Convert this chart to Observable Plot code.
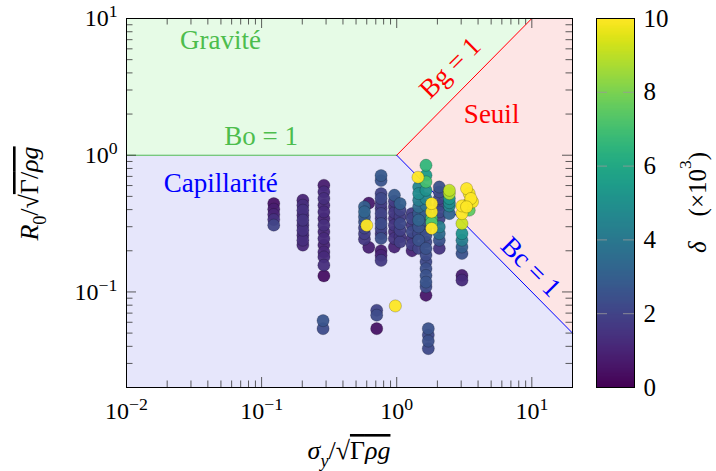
<!DOCTYPE html>
<html><head><meta charset="utf-8">
<script src="https://cdn.jsdelivr.net/npm/d3@7"></script>
<script src="https://cdn.jsdelivr.net/npm/@observablehq/plot@0.6"></script>
<style>
body{margin:0;background:#fff;}
#wrap{position:relative;width:716px;height:471px;overflow:hidden;background:#fff;}
#wrap svg{position:absolute;top:0;}
</style></head><body><div id="wrap"></div>
<script>
// ---------- data ----------
const ptX = [
0.123,0.123,0.123,0.123,0.123,
0.202,0.202,0.202,0.202,0.202,0.202,0.202,0.202,0.202,0.202,
0.289,0.289,0.289,0.289,0.289,0.289,0.289,0.289,0.289,0.289,0.289,0.289,0.289,0.289,
0.285,0.285,
0.577,0.577,0.577,0.577,0.577,0.577,0.577,
0.621,0.621,
0.766,0.766,0.766,0.766,0.766,0.766,0.766,0.766,0.766,0.766,0.766,0.766,0.766,0.766,0.766,
0.711,0.711,0.711,
0.961,0.961,0.961,0.961,0.961,0.961,0.961,0.961,0.961,
1.06,1.06,1.06,1.06,1.06,1.06,1.06,
1.298,1.298,1.298,1.298,1.298,1.298,1.298,
1.454,1.454,1.454,1.454,1.454,1.454,1.454,1.454,1.454,1.454,
1.647,1.647,1.647,1.647,1.647,1.647,1.647,1.647,1.647,1.647,1.647,1.647,1.647,1.647,1.647,1.647,1.647,1.647,1.647,
1.713,1.713,1.713,1.713,
1.813,1.813,1.813,1.813,1.813,
2.066,2.066,2.066,2.066,2.066,2.066,2.066,2.066,2.066,2.066,
2.452,2.452,2.452,2.452,2.452,2.452,
3.04,3.04,3.04,3.04,3.04,3.04,3.04,3.04,3.04,
3.44,3.29,3.44,3.54,3.40,3.29,3.64,
0.600,0.977,1.437
];
const ptY = [
0.443,0.403,0.368,0.338,0.308,
0.469,0.431,0.396,0.364,0.335,0.308,0.283,0.260,0.239,0.220,
0.603,0.539,0.482,0.431,0.385,0.344,0.308,0.275,0.246,0.220,0.196,0.180,0.157,0.131,
0.0617,0.0539,
0.419,0.385,0.354,0.325,0.294,0.267,0.243,
0.446,0.212,
0.710,0.653,0.524,0.482,0.443,0.407,0.374,0.344,0.316,0.291,0.267,0.246,0.200,0.185,0.170,
0.0734,0.0676,0.0539,
0.510,0.461,0.419,0.381,0.344,0.308,0.275,0.246,0.213,
0.443,0.396,0.354,0.316,0.283,0.253,0.232,
0.374,0.344,0.308,0.275,0.246,0.222,0.200,
0.586,0.524,0.469,0.419,0.374,0.335,0.299,0.267,0.239,0.208,
0.845,0.714,0.638,0.554,0.482,0.431,0.374,0.335,0.291,0.260,0.232,0.208,0.186,0.166,0.148,0.132,0.118,0.109,0.0945,
0.0539,0.0484,0.0437,0.0385,
0.344,0.322,0.443,0.385,0.291,
0.586,0.539,0.482,0.431,0.385,0.344,0.299,0.267,0.239,0.208,
0.554,0.524,0.482,0.450,0.426,0.374,
0.267,0.239,0.213,0.191,0.132,0.122,0.316,0.374,0.426,
0.396,0.570,0.524,0.482,0.443,0.419,0.456,
0.307,0.079,0.690
];
const ptD = [
0.5,0.8,1.0,1.4,2.0,
1.0,1.3,1.4,1.2,1.5,1.3,1.4,1.2,1.3,1.1,
0.8,1.2,1.3,1.1,1.2,1.0,1.3,1.1,1.2,1.0,1.1,1.2,1.3,0.4,
2.6,2.3,
3.0,3.2,2.8,2.5,2.0,1.8,1.6,
0.7,0.9,
2.8,2.6,2.0,2.2,1.8,1.6,2.0,1.7,2.3,2.0,1.6,2.4,0.8,1.0,1.7,
2.0,2.3,0.5,
2.8,1.8,1.5,1.7,1.4,1.6,1.3,1.5,1.0,
3.0,2.0,1.8,2.2,1.9,1.6,1.8,
1.8,2.0,1.7,2.2,1.5,1.8,1.0,
4.6,4.8,4.2,3.5,2.8,3.2,2.5,2.2,2.5,2.0,
6.6,5.5,7.0,5.0,4.6,3.8,3.0,2.6,2.3,2.4,2.2,2.5,2.3,2.2,2.4,2.5,2.6,2.3,0.6,
2.5,2.2,2.4,2.2,
7.0,7.3,10,9.9,10,
2.5,2.3,2.0,1.8,2.2,2.0,4.2,3.5,2.5,1.5,
9.0,8.8,5.2,4.8,4.5,3.2,
5.0,4.2,3.0,2.5,0.8,1.2,9.2,10,10,
7.5,10,9.8,10,9.6,10,9.9,
10,10,10
];

// regime regions (boundary vertices)
const gravX = [0.01, 1, 10],  gravY1 = [1, 1, 10],        gravY2 = [10, 10, 10];
const seuilX = [1, 10, 20],   seuilY1 = [1, 0.1, 0.05],   seuilY2 = [1, 10, 10];
const capX = [0.01, 1, 20],   capY1 = [0.02, 0.02, 0.02], capY2 = [1, 1, 0.05];
// boundary lines
const boX = [0.01, 1], boY = [1, 1];
const bgX = [1, 10],   bgY = [1, 10];
const bcX = [1, 20],   bcY = [1, 0.05];
// annotations
const labelText = ["Gravité", "Bo = 1", "Capillarité", "Seuil", "Bg = 1", "Bc = 1"];
const labelX = [0.0497, 0.099, 0.0498, 5.04, 2.48, 9.83];
const labelY = [6.95, 1.37, 0.621, 2.0, 4.36, 0.1524];
const labelRot = [0, 0, 0, 0, -45, 45];
const labelKind = ["g", "g", "b", "r", "r", "b"];
// ticks
const xTicks = [0.01, 0.1, 1, 10], xExp = ["−2", "−1", "0", "1"];
const yTicks = [0.1, 1, 10],       yExp = ["−1", "0", "1"];
const cTicks = [0, 2, 4, 6, 8, 10], cInner = [2, 4, 6, 8];

// ---------- layout / style ----------
const F = "'Liberation Serif','DejaVu Serif',serif";
const W = 716, H = 471, mL = 126, mR = 144, mT = 18, mB = 84;
const iW = W - mL - mR, iH = H - mT - mB;
const xDomain = [0.01, 20], yDomain = [0.02, 10];
const COL = {g: "#4dbd4d", r: "#ff0000", b: "#0000ff"};
const TF = 24, LF = 27;
const MAJ = 10, MIN = 6.5;

const isPow = v => Math.abs(Math.log10(v) - Math.round(Math.log10(v))) < 1e-9;
const allX = d3.scaleLog().domain(xDomain).ticks().filter(v => v > xDomain[0] && v < xDomain[1]);
const allY = d3.scaleLog().domain(yDomain).ticks().filter(v => v > yDomain[0] && v < yDomain[1]);
const minX = allX.filter(v => !isPow(v)), majX = allX.filter(isPow);
const minY = allY.filter(v => !isPow(v)), majY = allY.filter(isPow);

const rng = n => d3.range(n);
const order = rng(ptX.length).sort((a, b) => ptD[a] - ptD[b]);
const tickStroke = {stroke: "#333", strokeWidth: 0.8};

const main = Plot.plot({
  width: W, height: H, marginLeft: mL, marginRight: mR, marginTop: mT, marginBottom: mB,
  x: {type: "log", domain: xDomain},
  y: {type: "log", domain: yDomain},
  color: {type: "linear", scheme: "viridis", domain: [0, 10]},
  style: {fontFamily: F, background: "none", overflow: "visible"},
  marks: [
    Plot.areaY(rng(3), {x: i => gravX[i], y1: i => gravY1[i], y2: i => gravY2[i], fill: "#e6fbe6"}),
    Plot.areaY(rng(3), {x: i => seuilX[i], y1: i => seuilY1[i], y2: i => seuilY2[i], fill: "#fde5e5"}),
    Plot.areaY(rng(3), {x: i => capX[i], y1: i => capY1[i], y2: i => capY2[i], fill: "#e6e6fb"}),
    Plot.line(rng(2), {x: i => boX[i], y: i => boY[i], stroke: COL.g, strokeWidth: 1}),
    Plot.line(rng(2), {x: i => bgX[i], y: i => bgY[i], stroke: COL.r, strokeWidth: 1}),
    Plot.line(rng(2), {x: i => bcX[i], y: i => bcY[i], stroke: COL.b, strokeWidth: 1}),
    // inward ticks on all four sides
    Plot.ruleX(minX, {x: d => d, insetTop: iH - MIN, ...tickStroke}),
    Plot.ruleX(minX, {x: d => d, insetBottom: iH - MIN, ...tickStroke}),
    Plot.ruleX(majX, {x: d => d, insetTop: iH - MAJ, ...tickStroke}),
    Plot.ruleX(majX, {x: d => d, insetBottom: iH - MAJ, ...tickStroke}),
    Plot.ruleY(minY, {y: d => d, insetRight: iW - MIN, ...tickStroke}),
    Plot.ruleY(minY, {y: d => d, insetLeft: iW - MIN, ...tickStroke}),
    Plot.ruleY(majY, {y: d => d, insetRight: iW - MAJ, ...tickStroke}),
    Plot.ruleY(majY, {y: d => d, insetLeft: iW - MAJ, ...tickStroke}),
    Plot.dot(order, {x: i => ptX[i], y: i => ptY[i], fill: i => ptD[i], r: 6.1,
      stroke: "black", strokeOpacity: 0.25, strokeWidth: 0.8, fillOpacity: 0.95}),
    ...labelText.map((t, i) => Plot.text([t], {x: () => labelX[i], y: () => labelY[i], text: d => d,
      rotate: labelRot[i], fill: COL[labelKind[i]], fontSize: LF, fontFamily: F})),
    Plot.frame({stroke: "black", strokeWidth: 1}),
    Plot.axisX(xTicks, {tickSize: 0, tickPadding: 14, fontSize: TF, fontFamily: F, label: null,
      tickFormat: d => "10^" + xExp[xTicks.indexOf(d)]}),
    Plot.axisY(yTicks, {tickSize: 0, tickPadding: 9, fontSize: TF, fontFamily: F, label: null,
      tickFormat: d => "10^" + yExp[yTicks.indexOf(d)]})
  ]
});

const barW = 38, cbLeft = 596;
const cb = Plot.plot({
  width: W - cbLeft, height: H, marginLeft: 0, marginRight: W - cbLeft - barW, marginTop: mT, marginBottom: mB,
  x: {domain: [0, 1], axis: null},
  y: {domain: [0, 10]},
  color: {type: "linear", scheme: "viridis", domain: [0, 10]},
  style: {fontFamily: F, background: "none", overflow: "visible"},
  marks: [
    Plot.raster({fill: (x, y) => y, x1: 0, x2: 1, y1: 0, y2: 10, width: 1, height: 300, imageRendering: "auto"}),
    Plot.tickY(cInner, {y: d => d, stroke: "#999", strokeWidth: 0.8, insetRight: barW - 11}),
    Plot.tickY(cInner, {y: d => d, stroke: "#999", strokeWidth: 0.8, insetLeft: barW - 11}),
    Plot.frame({stroke: "black", strokeWidth: 1}),
    Plot.axisY(cTicks, {anchor: "right", tickSize: 0, tickPadding: 9, fontSize: 25, fontFamily: F, label: null,
      tickFormat: d => String(d)})
  ]
});

const wrap = document.getElementById("wrap");
main.style.left = "0px";
cb.style.left = cbLeft + "px";
wrap.appendChild(main);
wrap.appendChild(cb);

// superscript tick labels
function supify(sel) {
  sel.each(function () {
    const t = d3.select(this); const s = t.text(); const k = s.indexOf("^");
    if (k < 0) return;
    t.text(null);
    t.append("tspan").text(s.slice(0, k));
    t.append("tspan").attr("dy", "-0.5em").attr("font-size", "0.74em").text(s.slice(k + 1));
  });
}
supify(d3.select(main).selectAll('g[aria-label="x-axis tick label"] text'));
supify(d3.select(main).selectAll('g[aria-label="y-axis tick label"] text'));

// rich text helper: segments [text, {it, sub, sup, over}]
function rich(svg, tx, ty, rot, segs, size) {
  const t = d3.select(svg).append("text")
    .attr("transform", `translate(${tx},${ty}) rotate(${rot})`)
    .attr("text-anchor", "middle").attr("font-family", F).attr("font-size", size).attr("fill", "black");
  let shift = 0;
  for (const [s, o = {}] of segs) {
    const target = o.sub ? 0.3 : o.sup ? -0.62 : 0;
    const sp = t.append("tspan").text(s);
    const fs = (o.sub || o.sup) ? 0.7 : 1;
    if (fs !== 1) sp.attr("font-size", size * fs);
    const dyPx = (target - shift) * size;
    if (dyPx !== 0) sp.attr("dy", dyPx);
    shift = target;
    if (o.it) sp.attr("font-style", "italic");
    if (o.over) sp.style("text-decoration", "overline");
  }
  return t;
}
const AF = 26;
rich(main, mL + iW / 2, H - 12, 0, [
  ["σ", {it: 1}], ["y", {it: 1, sub: 1}], ["/√"], ["Γ", {over: 1}], ["ρg", {it: 1, over: 1}]
], AF);
rich(main, 38, mT + iH / 2 - 9, -90, [
  ["R", {it: 1}], ["0", {sub: 1}], ["/√"], ["Γ/", {over: 1}], ["ρg", {it: 1, over: 1}]
], AF);
rich(cb, W - cbLeft - 10, mT + iH / 2, -90, [
  ["δ", {it: 1}], ["\u2003(×10"], ["3", {sup: 1}], [")"]
], 25);
</script>
</body></html>
